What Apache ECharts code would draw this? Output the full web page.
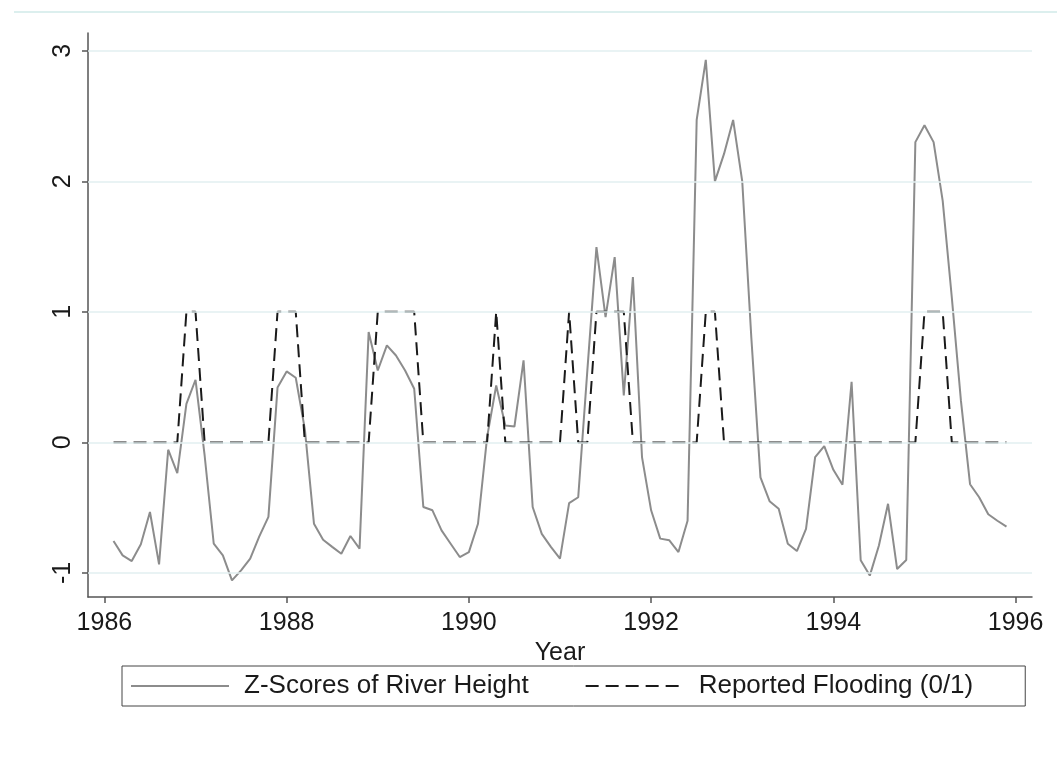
<!DOCTYPE html>
<html><head><meta charset="utf-8">
<script src="https://cdn.jsdelivr.net/npm/echarts@6/dist/echarts.min.js"></script>
<style>html,body{margin:0;padding:0;background:#fff}#c{width:1057px;height:764px}</style>
</head><body><div id="c"></div>
<script>
// Sampling grid of the time axis (one observation every 0.1 year)
const startYear = 1986.1;
const stepYear = 0.1;

const zScores = [
  -0.755, -0.865, -0.909, -0.78, -0.533, -0.934, -0.056, -0.235, 0.296, 0.48,
  -0.1, -0.776, -0.865, -1.057, -0.98, -0.89, -0.72, -0.57, 0.42, 0.544,
  0.495, 0.1, -0.623, -0.745, -0.80, -0.853, -0.717, -0.814, 0.845, 0.551,
  0.743, 0.666, 0.551, 0.411, -0.495, -0.52, -0.674, -0.776, -0.878, -0.84,
  -0.623, 0.04, 0.436, 0.13, 0.122, 0.628, -0.495, -0.70, -0.80, -0.89,
  -0.465, -0.42, 0.55, 1.496, 0.96, 1.419, 0.36, 1.266, -0.112, -0.52,
  -0.737, -0.75, -0.84, -0.60, 2.47, 2.93, 2.0, 2.21, 2.47, 2.0,
  0.8, -0.268, -0.45, -0.508, -0.776, -0.832, -0.663, -0.113, -0.028, -0.21,
  -0.324, 0.465, -0.903, -1.02, -0.79, -0.47, -0.97, -0.90, 2.30, 2.43,
  2.30, 1.85, 1.11, 0.32, -0.32, -0.42, -0.55, -0.60, -0.645
];

const flooding = [
  0,0,0,0,0,0,0,0, 1,1,
  0,0,0,0,0,0,0,0, 1,1,1,
  0,0,0,0,0,0,0,0, 1,1,1,1,1,
  0,0,0,0,0,0,0,0, 1,
  0,0,0,0,0,0,0, 1,
  0,0, 1,1,1,1,
  0,0,0,0,0,0,0,0, 1,1,
  0,0,0,0,0,0,0,0,0,0,0,0,0,0,0,0,0,0,0,0,0,0, 1,1,1,
  0,0,0,0,0,0,0
];

const xTicks = [1986, 1988, 1990, 1992, 1994, 1996];
const yTicks = [-1, 0, 1, 2, 3];
const seriesNames = ['Z-Scores of River Height', 'Reported Flooding (0/1)'];
const xAxisName = 'Year';

const times = zScores.map((_, i) => Math.round((startYear + i * stepYear) * 10) / 10);

const chart = echarts.init(document.getElementById('c'), null, {renderer: 'canvas'});
const font = "'Liberation Sans', Arial, sans-serif";
const axisColor = '#555555';
const textColor = '#1a1a1a';

chart.setOption({
  animation: false,
  backgroundColor: '#ffffff',
  textStyle: {fontFamily: font},
  graphic: [{
    type: 'line', shape: {x1: 14, y1: 12, x2: 1057, y2: 12},
    style: {stroke: '#dcefee', lineWidth: 2}, silent: true
  }],
  grid: {left: 88, right: 25, top: 33, bottom: 167, containLabel: false},
  legend: {
    data: seriesNames,
    left: 122, top: 666,
    itemWidth: 98, itemHeight: 4, itemGap: 56,
    padding: [7, 52, 7, 8],
    borderColor: '#444444', borderWidth: 1,
    itemStyle: {opacity: 0},
    textStyle: {fontSize: 26, color: textColor, fontFamily: font, padding: [0, 0, 0, 10]}
  },
  xAxis: {
    type: 'value', min: 1985.82, max: 1996.18,
    name: xAxisName, nameLocation: 'middle', nameGap: 43,
    nameTextStyle: {fontSize: 25, color: textColor, fontFamily: font},
    axisLine: {show: true, onZero: false, lineStyle: {color: axisColor, width: 1.5}},
    axisTick: {show: true, customValues: xTicks, length: 6, lineStyle: {color: axisColor, width: 1.5}},
    axisLabel: {customValues: xTicks, fontSize: 25, color: textColor, margin: 14, fontFamily: font,
                formatter: v => String(v)},
    splitLine: {show: false}
  },
  yAxis: {
    type: 'value', min: -1.184, max: 3.136,
    axisLine: {show: true, onZero: false, lineStyle: {color: axisColor, width: 1.5}},
    axisTick: {show: true, customValues: yTicks, length: 6, lineStyle: {color: axisColor, width: 1.5}},
    axisLabel: {customValues: yTicks, rotate: 90, fontSize: 25, color: textColor, margin: 12, fontFamily: font,
                formatter: v => String(v)},
    splitLine: {show: false}
  },
  series: [
    {
      name: 'gridlines', type: 'line', data: [], z: 0, silent: true,
      markLine: {
        silent: true, symbol: 'none', label: {show: false},
        lineStyle: {color: '#e2eff0', width: 1.5, type: 'solid'},
        data: yTicks.map(v => ({yAxis: v}))
      }
    },
    {
      name: seriesNames[0], type: 'line', z: 2,
      data: times.map((t, i) => [t, zScores[i]]),
      symbol: 'none', showSymbol: false,
      lineStyle: {color: '#8c8c8c', width: 2},
      itemStyle: {color: '#8c8c8c'}
    },
    {
      name: seriesNames[1], type: 'line', z: 3,
      data: times.map((t, i) => [t, flooding[i]]),
      symbol: 'none', showSymbol: false,
      lineStyle: {color: '#1a1a1a', width: 2, type: [13, 7]},
      itemStyle: {color: '#1a1a1a'}
    }
  ]
});
</script>
</body></html>
